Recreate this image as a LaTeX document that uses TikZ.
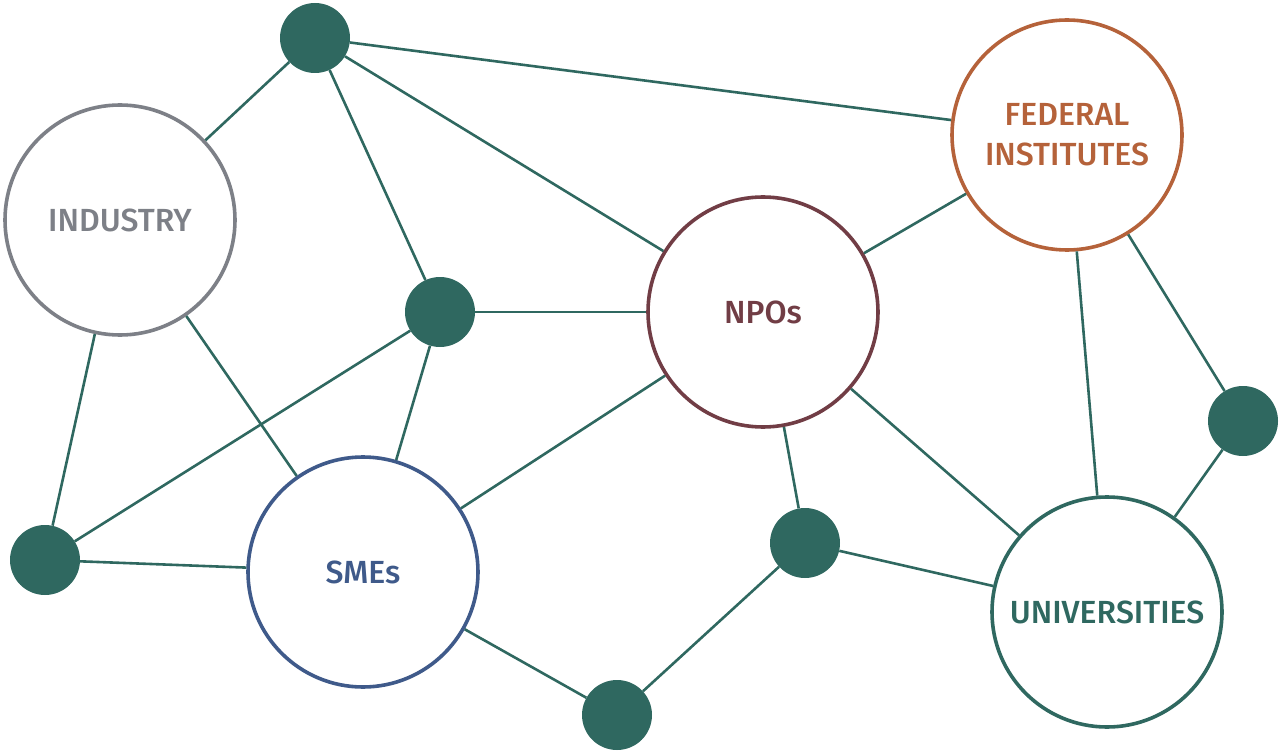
\documentclass[tikz,border=0pt]{standalone}
\usepackage{fontspec}
\setmainfont{Fira Sans}[UprightFont={* Medium}]
\definecolor{cgray}{HTML}{7D8087}
\definecolor{corange}{HTML}{B5623A}
\definecolor{cmaroon}{HTML}{713D45}
\definecolor{cblue}{HTML}{3F5A8A}
\definecolor{cgreen}{HTML}{2F6860}
\begin{document}
\begin{tikzpicture}[x=1pt,y=-1pt,
  big/.style={circle,draw,line width=3.6pt,fill=white,minimum size=230pt,inner sep=0pt,align=center,
    font=\fontsize{32}{40}\selectfont},
  dot/.style={circle,fill=cgreen,minimum size=70pt,inner sep=0pt},
  link/.style={draw=cgreen,line width=2.6pt}]
\useasboundingbox (0,0) rectangle (1280,754);
\node[big,draw=cgray,text=cgray] (ind) at (120,220) {INDUSTRY};
\node[big,draw=corange,text=corange] (fed) at (1067,135) {FEDERAL\\INSTITUTES};
\node[big,draw=cmaroon,text=cmaroon] (npo) at (763,312) {NPOs};
\node[big,draw=cblue,text=cblue] (sme) at (363,572) {SMEs};
\node[big,draw=cgreen,text=cgreen] (uni) at (1107,612) {UNIVERSITIES};
\node[dot] (a) at (315,38) {};
\node[dot] (b) at (440,312) {};
\node[dot] (c) at (45,560) {};
\node[dot] (d) at (805,543) {};
\node[dot] (e) at (617,715) {};
\node[dot] (f) at (1243,421) {};
\path[link] (a) -- (ind);
\path[link] (a) -- (fed);
\path[link] (a) -- (npo);
\path[link] (a) -- (b);
\path[link] (b) -- (npo);
\path[link] (b) -- (c);
\path[link] (b) -- (sme);
\path[link] (ind) -- (c);
\path[link] (ind) -- (sme);
\path[link] (c) -- (sme);
\path[link] (sme) -- (npo);
\path[link] (sme) -- (e);
\path[link] (e) -- (d);
\path[link] (d) -- (npo);
\path[link] (d) -- (uni);
\path[link] (npo) -- (uni);
\path[link] (npo) -- (fed);
\path[link] (fed) -- (uni);
\path[link] (fed) -- (f);
\path[link] (f) -- (uni);
\end{tikzpicture}
\end{document}
